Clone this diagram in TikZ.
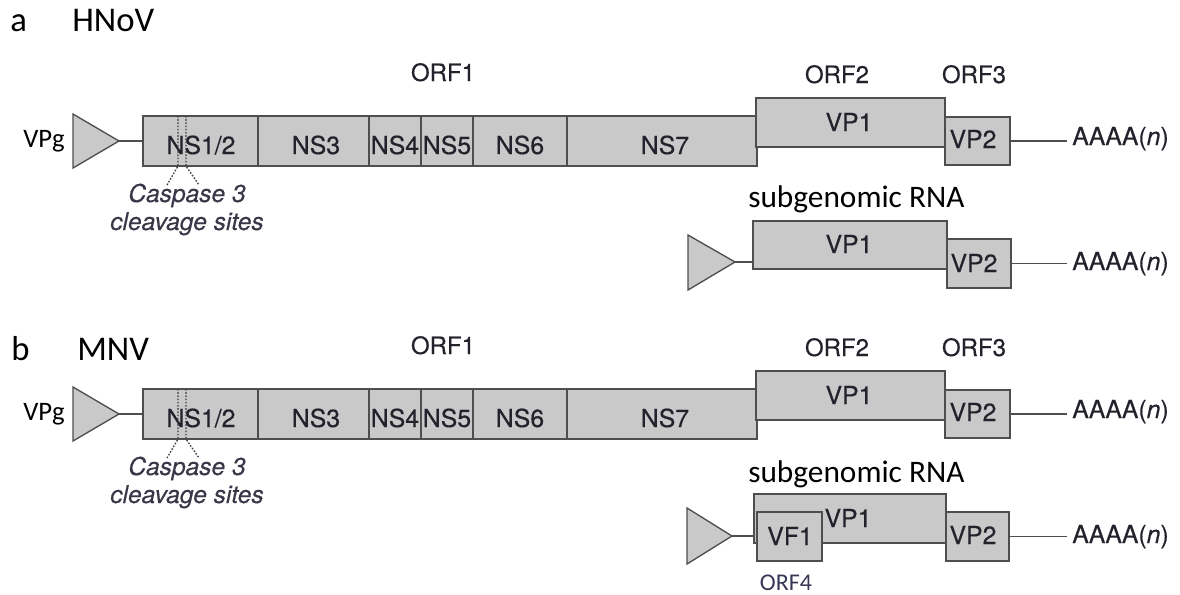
\documentclass[tikz,border=0pt]{standalone}
\usepackage{fontspec}
\setmainfont{TeX Gyre Heros}[FakeBold=0.35]
\newfontfamily\calib{Carlito}
\usetikzlibrary{fit}
\definecolor{boxfill}{RGB}{201,201,201}
\definecolor{boxline}{RGB}{78,78,78}
\definecolor{txt}{RGB}{34,34,44}
\definecolor{casp}{RGB}{55,55,72}
\definecolor{orffour}{RGB}{55,55,85}
\newcommand\mainrow[1]{%
  \draw[tri] (73,114) -- (119,141) -- (73,168) -- cycle;
  \coordinate (tip#1) at (119,141);
  \node[gbox, fit={(143,116)(258,166)}] (ns12#1) {};
  \node[gbox, fit={(258,116)(369,166)}] (ns3#1) {};
  \node[gbox, fit={(369,116)(421,166)}] (ns4#1) {};
  \node[gbox, fit={(421,116)(473,166)}] (ns5#1) {};
  \node[gbox, fit={(473,116)(567,166)}] (ns6#1) {};
  \node[gbox, fit={(567,116)(757,166)}] (ns7#1) {};
  \node[gbox, fit={(756,98)(945,147)}] (vp1#1) {};
  \node[gbox, fit={(945,117)(1010,165)}] (vp2#1) {};
  \coordinate (poly#1) at (1067,141);
  \draw[conn] (tip#1) -- (ns12#1.west);
  \draw[conn] (vp2#1.east) -- (poly#1);
  \node[glabel] (tns12#1) at (201,154) {NS1/2};
  \node[glabel] (tns3#1) at (316,154) {NS3};
  \node[glabel] (tns4#1) at (395,154) {NS4};
  \node[glabel] (tns5#1) at (447,154) {NS5};
  \node[glabel] (tns6#1) at (520,154) {NS6};
  \node[glabel] (tns7#1) at (665,154) {NS7};
  \node[glabel] (tvp1#1) at (849,131) {VP1};
  \node[glabel] (tvp2#1) at (973,148) {VP2};
  \node[glabel, anchor=base west] (aaaa#1) at (1072,145) {AAAA(\textit{n})};
  \node[orflabel] (orf1#1) at (443,81) {ORF1};
  \node[orflabel] (orf2#1) at (837,83) {ORF2};
  \node[orflabel] (orf3#1) at (974,83) {ORF3};
  \node[calabel] (vpg#1) at (23,147) {VPg};
  \coordinate (cla#1) at (178,116);
  \coordinate (clb#1) at (178,166);
  \coordinate (clc#1) at (167,185);
  \coordinate (cra#1) at (186,116);
  \coordinate (crb#1) at (186,166);
  \coordinate (crc#1) at (199,185);
  \draw[cleave] (cla#1) -- (clb#1) -- (clc#1);
  \draw[cleave] (cra#1) -- (crb#1) -- (crc#1);
  \node[casptext] (casp#1) at (187,202) {Caspase 3};
  \node[casptext] (cleav#1) at (187,230) {cleavage sites};
}
\begin{document}
\begin{tikzpicture}[x=0.75pt,y=-0.75pt,
  gbox/.style={draw=boxline, fill=boxfill, line width=1pt, inner sep=0pt},
  glabel/.style={font=\fontsize{18.6}{20}\selectfont, text=txt, anchor=base, inner sep=0pt},
  orflabel/.style={font=\fontsize{18}{20}\selectfont, text=txt, anchor=base, inner sep=0pt},
  calabel/.style={font=\calib\fontsize{20}{22}\selectfont, text=black, anchor=base west, inner sep=0pt},
  sublabel/.style={font=\calib\fontsize{23.5}{26}\selectfont, text=black, anchor=base west, inner sep=0pt},
  panellabel/.style={font=\calib\fontsize{26}{28}\selectfont, text=black, anchor=base west, inner sep=0pt},
  conn/.style={draw=boxline, line width=1pt},
  tri/.style={draw=boxline, fill=boxfill, line width=1pt, line join=miter},
  cleave/.style={draw=boxline!80!black, dash pattern=on 1.2pt off 1.2pt, line width=1pt},
  casptext/.style={font=\itshape\fontsize{18.4}{20}\selectfont, text=casp, anchor=base, inner sep=0pt}]
\useasboundingbox (0,0) rectangle (1180,594);

% panel labels
\node[panellabel] (pa) at (10,31) {a};
\node[panellabel] (pah) at (72,31) {HNoV};
\node[panellabel] (pb) at (11,360) {b};
\node[panellabel] (pbm) at (77,360) {MNV};

% panel a main row
\mainrow{A}
% panel b main row
\begin{scope}[shift={(0,273)}]
\mainrow{B}
\end{scope}

% panel a subgenomic RNA
\node[sublabel] (subA) at (748,207) {subgenomic RNA};
\draw[tri] (688,235) -- (735,262) -- (688,290) -- cycle;
\coordinate (stipA) at (735,262);
\node[gbox, fit={(753,221)(947,269)}] (svp1A) {};
\node[gbox, fit={(947,239)(1011,288)}] (svp2A) {};
\coordinate (spolyA) at (1067,263.5);
\draw[conn] (stipA) -- (stipA -| svp1A.west);
\draw[conn] (svp2A.east) -- (spolyA);
\node[glabel] (tsvp1A) at (849,253) {VP1};
\node[glabel] (tsvp2A) at (974,272) {VP2};
\node[glabel, anchor=base west] (saaaaA) at (1072,270) {AAAA(\textit{n})};

% panel b subgenomic RNA
\node[sublabel] (subB) at (748,482) {subgenomic RNA};
\draw[tri] (687,508) -- (732,536) -- (687,564) -- cycle;
\coordinate (stipB) at (732,536);
\node[gbox, fit={(754,494)(946,543)}] (svp1B) {};
\node[gbox, fit={(757,512)(822,561)}] (svf1B) {};
\node[gbox, fit={(946,512)(1009,561)}] (svp2B) {};
\coordinate (spolyB) at (1067,536.5);
\draw[conn] (stipB) -- (stipB -| svp1B.west);
\draw[conn] (svp2B.east) -- (spolyB);
\node[glabel] (tsvp1B) at (848,527) {VP1};
\node[glabel] (tsvf1B) at (790,545) {VF1};
\node[glabel] (tsvp2B) at (973,544) {VP2};
\node[glabel, anchor=base west] (saaaaB) at (1072,543) {AAAA(\textit{n})};
\node[font=\calib\fontsize{18}{20}\selectfont, text=orffour, anchor=base, inner sep=0pt] (orf4B) at (786,590) {ORF4};
\end{tikzpicture}
\end{document}
